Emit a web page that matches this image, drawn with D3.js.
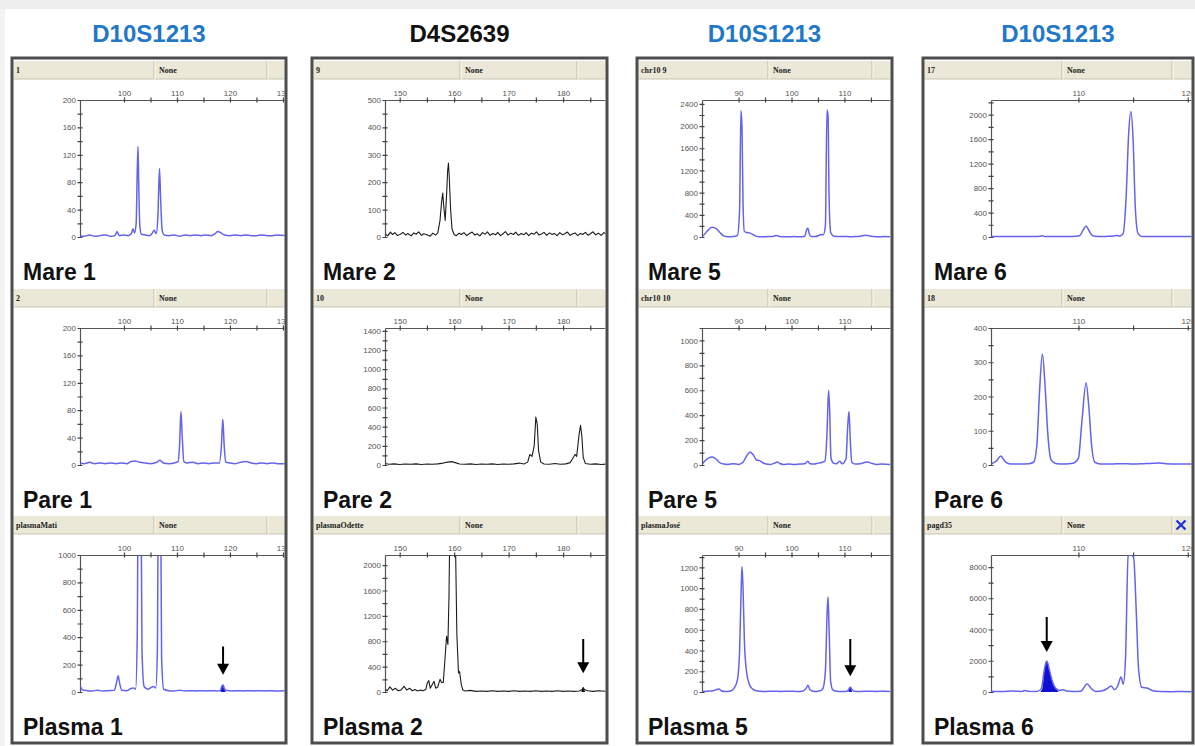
<!DOCTYPE html>
<html>
<head>
<meta charset="utf-8">
<script src="https://cdn.jsdelivr.net/npm/d3@7"></script>
<style>
  body { margin: 0; background: #fff; }
  svg { display: block; }
</style>
</head>
<body>
<div id="chart"></div>
<script>
// ---- Data: one marker per column, three samples per column ----
const markerNames = ['D10S1213', 'D4S2639', 'D10S1213', 'D10S1213'];
const markerColors = ['#1f78c8', '#111111', '#1f78c8', '#1f78c8'];
const sampleLabels = [
  ['Mare 1', 'Pare 1', 'Plasma 1'],
  ['Mare 2', 'Pare 2', 'Plasma 2'],
  ['Mare 5', 'Pare 5', 'Plasma 5'],
  ['Mare 6', 'Pare 6', 'Plasma 6']
];
const headerIds = [
  ['1', '2', 'plasmaMati'],
  ['9', '10', 'plasmaOdette'],
  ['chr10 9', 'chr10 10', 'plasmaJosé'],
  ['17', '18', 'pagd35']
];
const panelName = 'None';

// size (bp) window per column and tick steps
const sizeDomains = [[91.7, 130.2], [147.3, 187.7], [83.1, 118.6], [102, 120.3]];
const sizeTickStart = [100, 150, 90, 110];
// rfu top of scale per panel, [major, minor] tick steps per panel
const rfuMax = [[200, 200, 1000], [500, 1430, 2160], [2470, 1100, 1320], [2240, 400, 8770]];
const rfuSteps = [
  [[40, 20], [40, 20], [200, 100]],
  [[100, 50], [200, 100], [400, 200]],
  [[400, 200], [200, 100], [200, 100]],
  [[400, 200], [100, 50], [2000, 1000]]
];

// traces: [size, rfu]
const mare1 = [[91.7,2],[92.5,1],[93.5,3],[94.5,1],[95.5,2],[96.5,3],[97.5,1],[98.3,2],[98.7,8],[99.1,2],[100,3],[100.8,2],[101.4,5],[101.7,12],[102.0,6],[102.3,20],[102.5,95],[102.65,132],[102.8,70],[103.0,15],[103.3,4],[104,3],[104.8,2],[105.3,5],[105.7,10],[106.1,5],[106.4,30],[106.7,100],[106.9,60],[107.2,10],[107.6,3],[108.5,2],[109.5,3],[110.5,1],[111.5,3],[112.5,2],[113.5,3],[114.5,2],[115.5,3],[116.5,2],[117.2,5],[117.7,8],[118.3,6],[119,3],[120,2],[121,3],[122,2],[123,3],[124,2],[125,2],[126,3],[127,2],[128,2],[129,3],[130.5,2]];
const pare1 = [[91.7,3],[92.5,2],[93.5,4],[94.5,2],[95.5,3],[96.5,2],[97.5,3],[98.5,2],[99.5,3],[100.5,2],[101.3,5],[102,6],[103,4],[104,3],[105,2],[106.2,4],[106.8,7],[107.4,3],[108.5,2],[109.5,3],[110.2,5],[110.5,30],[110.75,78],[111.0,40],[111.3,5],[112,3],[113,4],[114,2],[115,3],[116,2],[117,3],[118,3],[118.4,30],[118.65,67],[118.9,30],[119.2,4],[120,3],[121,2],[122,4],[123,5],[124,3],[125,2],[126,3],[127,2],[128,3],[129,2],[130.5,2]];
const plasma1 = [[91.7,45],[92.2,15],[93,10],[94,8],[95,12],[96,8],[97,10],[98.2,12],[98.6,70],[98.9,118],[99.2,60],[99.6,12],[100.5,10],[101.3,25],[101.8,30],[102.2,20],[102.5,400],[102.7,1500],[103.2,1500],[103.4,300],[103.8,40],[104.5,20],[105.2,35],[105.6,40],[106,30],[106.3,300],[106.5,1500],[106.9,1500],[107.1,250],[107.5,20],[108.5,10],[109.5,8],[110.5,12],[111.5,8],[112.5,10],[113.5,8],[114.5,10],[115.5,8],[116.5,10],[117.5,8],[118.2,12],[118.5,45],[118.7,52],[118.9,30],[119.2,12],[119.8,10],[120.5,8],[121.5,10],[122.5,8],[123.5,10],[124.5,8],[125.5,10],[126.5,8],[127.5,10],[128.5,8],[130.5,10]];

const mare2 = [[147.3,12],[147.8,4],[148.3,18],[148.7,9],[149.1,16],[149.6,5],[150.2,11],[150.6,17],[151.1,7],[151.5,13],[152.1,4],[152.6,15],[153.0,10],[153.5,19],[154.0,6],[154.4,12],[155.0,8],[155.6,3],[156.1,14],[156.6,7],[157,15],[157.4,60],[157.7,130],[157.9,160],[158.1,110],[158.35,60],[158.6,150],[158.8,240],[158.95,270],[159.1,220],[159.35,100],[159.6,30],[160,8],[160.4,5],[160.9,14],[161.3,9],[161.8,16],[162.3,5],[162.7,11],[163.3,18],[163.8,7],[164.2,12],[164.7,4],[165.2,16],[165.7,10],[166.1,19],[166.6,6],[167.1,13],[167.6,8],[168.0,17],[168.5,5],[169.0,12],[169.4,20],[169.9,7],[170.4,14],[170.9,9],[171.3,18],[171.8,6],[172.3,13],[172.8,8],[173.2,16],[173.7,5],[174.2,14],[174.7,10],[175.1,19],[175.6,7],[176.1,12],[176.5,17],[177.0,6],[177.5,15],[178.0,9],[178.4,13],[178.9,5],[179.4,16],[179.9,8],[180.3,12],[180.8,18],[181.3,6],[181.7,11],[182.2,15],[182.7,5],[183.2,13],[183.6,9],[184.1,17],[184.6,6],[185.0,12],[185.5,19],[186.0,8],[186.5,14],[187.0,6],[187.5,16],[188,10]];
const pare2 = [[147.3,15],[148,8],[149,12],[150,6],[151,10],[152,8],[153,12],[154,6],[155,10],[156,8],[157,12],[158,20],[158.8,30],[159.5,35],[160.2,25],[161,10],[162,8],[163,12],[164,6],[165,10],[166,8],[167,12],[168,6],[169,10],[170,8],[171,12],[172,20],[172.8,10],[173.5,30],[173.9,110],[174.3,90],[174.7,200],[175.0,500],[175.25,430],[175.5,150],[175.9,30],[176.5,10],[177.5,8],[178.5,15],[179.5,8],[180.5,12],[181.3,25],[181.8,70],[182.2,110],[182.5,90],[182.9,300],[183.2,415],[183.45,300],[183.7,80],[184.1,15],[185,8],[186,12],[187,6],[188,10]];
const plasma2 = [[147.3,50],[147.7,20],[148.2,80],[148.7,30],[149.2,60],[149.7,20],[150.2,30],[150.8,90],[151.3,30],[151.8,60],[152.3,20],[152.8,40],[153.3,15],[153.8,30],[154.3,20],[154.8,40],[155.1,150],[155.35,180],[155.6,60],[156.0,120],[156.3,170],[156.6,60],[157.0,80],[157.4,200],[157.7,150],[158.0,150],[158.3,500],[158.6,880],[158.85,750],[159.05,1500],[159.2,2600],[160.2,2600],[160.5,900],[160.8,300],[161.0,320],[161.3,120],[161.6,30],[162,15],[163,25],[164,10],[165,15],[166,10],[167,20],[168,10],[169,15],[170,10],[171,20],[172,10],[173,15],[174,10],[175,20],[176,10],[177,15],[178,10],[179,20],[180,10],[181,15],[182,10],[183,15],[183.5,40],[183.7,70],[183.9,40],[184.5,20],[185.5,10],[186.5,20],[188,10]];

const mare5 = [[83.1,5],[83.5,40],[84.2,120],[85.0,175],[85.8,150],[86.5,80],[87.2,20],[88,5],[89,8],[89.8,30],[90.2,500],[90.45,2275],[90.65,2000],[90.85,600],[91.1,100],[91.6,80],[92.2,70],[92.8,40],[93.5,10],[94.5,5],[95.5,8],[96.5,10],[97.1,25],[97.8,10],[98.5,5],[99.5,5],[100.5,8],[101.5,5],[102.5,15],[102.9,140],[103.1,160],[103.35,60],[103.7,10],[104.5,8],[105.2,30],[105.6,45],[106.0,40],[106.4,200],[106.7,2290],[106.9,2200],[107.1,700],[107.4,80],[108,15],[109,8],[110,10],[111,5],[112,8],[113,15],[114,30],[114.8,20],[115.5,8],[116.5,5],[117.5,8],[118.6,5]];
const pare5 = [[83.1,5],[83.6,30],[84.3,55],[85.0,65],[85.7,50],[86.4,20],[87.2,8],[88,5],[89,10],[90,5],[90.8,20],[91.5,70],[92.2,105],[92.8,80],[93.4,40],[94.0,35],[94.5,20],[95.2,8],[96,5],[96.8,15],[97.3,25],[97.8,12],[98.5,5],[99.5,8],[100.5,5],[101.5,8],[102.5,10],[103.1,30],[103.5,10],[104.3,8],[105,15],[105.7,20],[106.3,30],[106.7,250],[107.0,600],[107.2,450],[107.45,60],[107.9,15],[108.5,10],[109.1,30],[109.6,10],[110.3,50],[110.6,300],[110.85,430],[111.1,200],[111.4,20],[112,8],[113,10],[113.8,20],[114.4,25],[115,15],[116,5],[117,8],[118.6,5]];
const plasma5 = [[83.1,5],[84,8],[85,10],[85.9,25],[86.3,30],[86.8,10],[87.5,5],[88.5,10],[89.2,40],[89.8,120],[90.2,400],[90.5,1000],[90.65,1210],[90.85,1000],[91.1,500],[91.5,200],[92.0,80],[92.6,30],[93.5,10],[95,5],[96.5,8],[98,5],[99.5,8],[101,5],[102.2,10],[102.8,40],[103.1,65],[103.5,20],[104.3,5],[105.2,10],[105.9,30],[106.4,200],[106.75,800],[106.9,915],[107.1,600],[107.4,100],[107.8,20],[108.5,8],[109.5,5],[110.5,8],[110.85,30],[111.1,45],[111.35,30],[111.8,8],[113,5],[114.5,8],[116,5],[117.5,8],[118.6,5]];

const mare6 = [[102,10],[103,10],[104,8],[105,10],[106,8],[106.5,12],[106.7,20],[106.9,10],[107.5,8],[108.5,10],[109.5,8],[110.1,20],[110.45,120],[110.7,180],[110.95,110],[111.3,20],[111.8,8],[112.5,10],[113.2,15],[113.5,25],[113.8,15],[114.1,60],[114.35,600],[114.6,1700],[114.8,2050],[115.0,1600],[115.2,500],[115.45,60],[115.8,10],[116.5,8],[117.5,10],[118.5,8],[119.5,10],[120.5,8]];
const pare6 = [[102,3],[102.5,12],[102.9,26],[103.3,10],[103.8,3],[104.5,3],[105.5,4],[105.9,8],[106.2,60],[106.45,220],[106.7,324],[106.95,230],[107.2,90],[107.5,15],[108,4],[108.8,3],[109.5,5],[110.0,20],[110.3,120],[110.7,240],[110.95,170],[111.2,60],[111.5,8],[112,3],[113,3],[114,4],[115,3],[116,4],[116.8,5],[117.3,6],[118,4],[119,3],[120.5,3]];
const plasma6 = [[102,50],[103,30],[104,60],[104.8,40],[105.1,90],[105.5,40],[106.2,30],[106.6,200],[106.9,1500],[107.1,1980],[107.35,1400],[107.6,700],[107.9,250],[108.3,100],[108.6,150],[108.9,60],[109.5,30],[110.2,50],[110.8,510],[111.2,200],[111.6,40],[112.2,80],[112.6,200],[113.0,380],[113.3,150],[113.6,400],[113.9,960],[114.1,500],[114.3,2000],[114.55,8700],[114.8,8800],[115.05,8600],[115.3,5000],[115.5,1500],[115.8,300],[116.3,250],[116.8,80],[117.5,30],[118.5,20],[119.5,30],[120.5,20]];

// highlighted (filled) fetal peaks in plasma, and arrows [size, fromRfu, toRfu]
const plasma1Peak = [[118.2,0],[118.5,45],[118.7,52],[118.9,30],[119.2,0]];
const plasma2Peak = [[183.35,0],[183.55,45],[183.7,70],[183.85,45],[184.05,0]];
const plasma5Peak = [[110.75,0],[110.95,35],[111.1,45],[111.25,35],[111.45,0]];
const plasma6Peak = [[106.5,0],[106.7,220],[106.9,1500],[107.1,1980],[107.35,1400],[107.6,700],[107.9,250],[108.2,0]];
const arrows = [[118.7, 333, 126], [183.7, 836, 295], [111.1, 510, 151], [107.1, 4800, 2560]];

const traces = [
  [mare1, pare1, plasma1],
  [mare2, pare2, plasma2],
  [mare5, pare5, plasma5],
  [mare6, pare6, plasma6]
];
const peakFills = [plasma1Peak, plasma2Peak, plasma5Peak, plasma6Peak];
const traceColors = ['#6363ec', '#1c1c1c', '#6363ec', '#6363ec'];
const fillColors = ['#1616d6', '#111111', '#1616d6', '#1010d0'];

// ---- Layout ----
const W = 1195, H = 746;
const columns = [
  { x0: 12, x1: 286, plotLeft: 80, div: [154, 267] },
  { x0: 312, x1: 607, plotLeft: 385, div: [460, 577] },
  { x0: 637, x1: 892, plotLeft: 702, div: [768, 872] },
  { x0: 923, x1: 1193, plotLeft: 991, div: [1062, 1172] }
];
const rowOffsets = [0, 228, 455];
const frameTop = 58, frameBottom = 743;

const svg = d3.select('#chart').append('svg')
  .attr('width', W).attr('height', H)
  .style('font-family', '"Liberation Sans", Arial, sans-serif');

// background: faint grey band at top and left
svg.append('rect').attr('width', W).attr('height', H).attr('fill', '#ffffff');
svg.append('rect').attr('width', W).attr('height', 9).attr('fill', '#eeeeee');
svg.append('rect').attr('y', 9).attr('width', 5).attr('height', H - 9).attr('fill', '#f3f3f3');

const defs = svg.append('defs');

columns.forEach((col, ci) => {
  // marker title
  svg.append('text')
    .attr('x', (col.x0 + col.x1) / 2)
    .attr('y', 42)
    .attr('text-anchor', 'middle')
    .attr('font-size', '24px')
    .attr('font-weight', 'bold')
    .attr('fill', markerColors[ci])
    .text(markerNames[ci]);

  defs.append('clipPath').attr('id', `col-clip-${ci}`)
    .append('rect')
    .attr('x', col.x0 + 1.5).attr('y', frameTop + 1.5)
    .attr('width', col.x1 - col.x0 - 3).attr('height', frameBottom - frameTop - 3);

  const colG = svg.append('g').attr('clip-path', `url(#col-clip-${ci})`);

  colG.append('rect')
    .attr('x', col.x0).attr('y', frameTop)
    .attr('width', col.x1 - col.x0).attr('height', frameBottom - frameTop)
    .attr('fill', '#fff');

  const x = d3.scaleLinear().domain(sizeDomains[ci]).range([col.plotLeft, col.x1 - 2]);
  const sizeMajor = d3.range(sizeTickStart[ci], sizeDomains[ci][1] + 0.01, 10);
  const sizeAll = d3.range(sizeTickStart[ci], sizeDomains[ci][1] + 0.01, 5);

  rowOffsets.forEach((off, ri) => {
    const hTop = 61 + off;
    const top = 100 + off;
    const zero = 237 + off;

    // ---- header bar ----
    const hg = colG.append('g');
    hg.append('rect')
      .attr('x', col.x0).attr('y', hTop)
      .attr('width', col.x1 - col.x0).attr('height', 18)
      .attr('fill', '#ebe8d7');
    hg.append('line')
      .attr('x1', col.x0).attr('x2', col.x1)
      .attr('y1', hTop + 18).attr('y2', hTop + 18)
      .attr('stroke', '#c9c5b2').attr('stroke-width', 1);
    col.div.forEach(dx => {
      hg.append('line')
        .attr('x1', dx).attr('x2', dx).attr('y1', hTop).attr('y2', hTop + 18)
        .attr('stroke', '#bdb8a2');
      hg.append('line')
        .attr('x1', dx + 1).attr('x2', dx + 1).attr('y1', hTop).attr('y2', hTop + 18)
        .attr('stroke', '#fbfaf4');
    });
    hg.append('text')
      .attr('x', col.x0 + 4).attr('y', hTop + 12)
      .attr('font-family', '"Liberation Serif", "Times New Roman", serif')
      .attr('font-weight', 'bold').attr('font-size', '8px').attr('fill', '#222')
      .text(headerIds[ci][ri]);
    hg.append('text')
      .attr('x', col.div[0] + 5).attr('y', hTop + 12)
      .attr('font-family', '"Liberation Serif", "Times New Roman", serif')
      .attr('font-weight', 'bold').attr('font-size', '8px').attr('fill', '#222')
      .text(panelName);

    // ---- scales & axes ----
    const y = d3.scaleLinear().domain([0, rfuMax[ci][ri]]).range([zero, top]);
    const [major, minor] = rfuSteps[ci][ri];
    const rfuMajor = d3.range(0, rfuMax[ci][ri] + 0.01, major);
    const rfuAll = d3.range(0, rfuMax[ci][ri] + 0.01, minor);

    const pg = colG.append('g');

    // y axis: outer ticks with labels, then inner halves of the ticks
    pg.append('g')
      .attr('transform', `translate(${col.plotLeft},0)`)
      .call(d3.axisLeft(y).tickValues(rfuAll).tickSizeInner(2.5).tickSizeOuter(0).tickPadding(1.5)
        .tickFormat(d => rfuMajor.includes(d) ? d : ''))
      .call(g => g.select('.domain').attr('stroke', '#555').attr('stroke-width', 1.2))
      .call(g => g.selectAll('.tick line').attr('stroke', '#444').attr('stroke-width', 1.2))
      .call(g => g.selectAll('.tick text').attr('font-size', '8px').attr('fill', '#555')
        .attr('font-family', '"Liberation Sans", Arial, sans-serif'));
    pg.append('g')
      .attr('transform', `translate(${col.plotLeft},0)`)
      .call(d3.axisLeft(y).tickValues(rfuAll).tickSize(-2.5).tickFormat(''))
      .call(g => g.select('.domain').remove())
      .call(g => g.selectAll('.tick line').attr('stroke', '#444').attr('stroke-width', 1.2));

    // x axis (size) along the top
    pg.append('g')
      .attr('transform', `translate(0,${top})`)
      .call(d3.axisTop(x).tickValues(sizeAll).tickSizeInner(2.5).tickSizeOuter(0).tickPadding(1.5)
        .tickFormat(d => sizeMajor.includes(d) ? d : ''))
      .call(g => g.select('.domain').attr('stroke', '#555').attr('stroke-width', 1.2))
      .call(g => g.selectAll('.tick line').attr('stroke', '#444').attr('stroke-width', 1.2))
      .call(g => g.selectAll('.tick text').attr('font-size', '8px').attr('fill', '#555')
        .attr('font-family', '"Liberation Sans", Arial, sans-serif'));
    pg.append('g')
      .attr('transform', `translate(0,${top})`)
      .call(d3.axisTop(x).tickValues(sizeAll).tickSize(-2.5).tickFormat(''))
      .call(g => g.select('.domain').remove())
      .call(g => g.selectAll('.tick line').attr('stroke', '#444').attr('stroke-width', 1.2));

    // ---- trace ----
    const clipId = `plot-clip-${ci}-${ri}`;
    defs.append('clipPath').attr('id', clipId)
      .append('rect')
      .attr('x', col.plotLeft + 0.5).attr('y', top + 0.5)
      .attr('width', col.x1 - col.plotLeft).attr('height', zero - top + 4);

    const line = d3.line()
      .x(d => x(d[0])).y(d => y(d[1]))
      .curve(ci === 1 ? d3.curveLinear : d3.curveMonotoneX);
    const area = d3.area()
      .x(d => x(d[0])).y0(y(0)).y1(d => y(d[1]))
      .curve(d3.curveMonotoneX);

    const tg = pg.append('g').attr('clip-path', `url(#${clipId})`);

    if (ri === 2) {
      tg.append('path')
        .attr('d', area(peakFills[ci]))
        .attr('fill', fillColors[ci]);
    }

    tg.append('path')
      .attr('d', line(traces[ci][ri]))
      .attr('fill', 'none')
      .attr('stroke', traceColors[ci])
      .attr('stroke-width', ci === 1 ? 1.1 : 1.5)
      .attr('stroke-linejoin', 'round');

    // arrow pointing at the fetal allele
    if (ri === 2) {
      const [ax, from, to] = arrows[ci];
      const px = x(ax), y1 = y(from), y2 = y(to);
      pg.append('line')
        .attr('x1', px).attr('x2', px)
        .attr('y1', y1).attr('y2', y2 - 9)
        .attr('stroke', '#000').attr('stroke-width', 2);
      pg.append('path')
        .attr('d', `M${px - 6},${y2 - 11}L${px + 6},${y2 - 11}L${px},${y2}Z`)
        .attr('fill', '#000');
    }

    // sample label
    pg.append('text')
      .attr('x', col.x0 + 11)
      .attr('y', 280 + off)
      .attr('font-size', '23px')
      .attr('font-weight', 'bold')
      .attr('fill', '#111')
      .text(sampleLabels[ci][ri]);
  });

  // blue close mark on last header of the last column
  if (ci === 3) {
    const cx = col.x1 - 12, cy = 61 + rowOffsets[2] + 9;
    colG.append('path')
      .attr('d', `M${cx - 4.5},${cy - 4.5}L${cx + 4.5},${cy + 4.5}M${cx + 4.5},${cy - 4.5}L${cx - 4.5},${cy + 4.5}`)
      .attr('stroke', '#2238d6').attr('stroke-width', 2.4);
  }

  // frame
  svg.append('rect')
    .attr('x', col.x0).attr('y', frameTop)
    .attr('width', col.x1 - col.x0).attr('height', frameBottom - frameTop)
    .attr('fill', 'none')
    .attr('stroke', '#4d4d4d')
    .attr('stroke-width', 3);
});
</script>
</body>
</html>
